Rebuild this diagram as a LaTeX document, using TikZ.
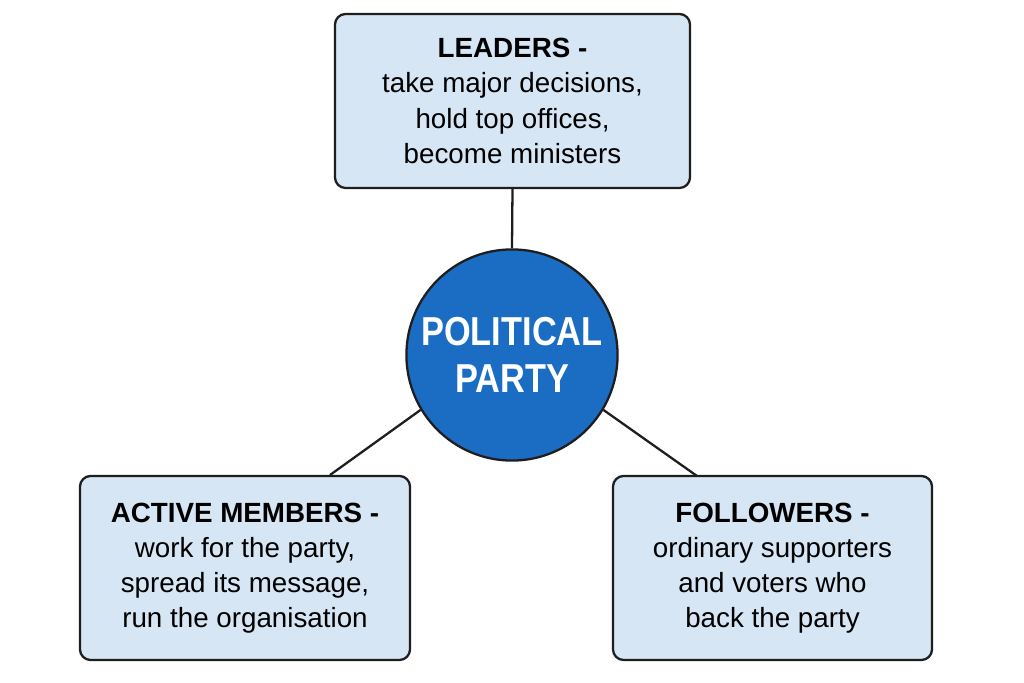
\documentclass[tikz,border=0pt]{standalone}
\usepackage{fontspec}
\setmainfont{Liberation Sans}
\usetikzlibrary{positioning}
\definecolor{boxfill}{HTML}{D6E6F5}
\definecolor{partyblue}{HTML}{1A6DC2}
\definecolor{edge}{HTML}{1E1E1E}
\tikzset{
  role/.style={draw=edge,line width=1.3pt,fill=boxfill,rounded corners=6pt,
    align=center,font=\fontsize{15.8}{20}\selectfont,inner sep=0pt},
  party/.style={circle,draw=edge,line width=1.3pt,fill=partyblue,text=white,
    minimum size=4.2cm,align=center,font=\fontsize{23}{27}\selectfont\bfseries},
  link/.style={draw=edge,line width=1.3pt}
}
\begin{document}
\begin{tikzpicture}
\useasboundingbox (0,0) rectangle (20.48,-13.66);
\node[party] (P) at (10.24,-7.1) {\scalebox{0.85}[1]{POLITICAL}\\\scalebox{0.85}[1]{PARTY}};
\node[role,minimum width=7.1cm,minimum height=3.48cm] (L) at (10.25,-2.02)
  {\textbf{LEADERS -}\\take major decisions,\\hold top offices,\\become ministers};
\node[role,minimum width=6.6cm,minimum height=3.68cm] (A) at (4.9,-11.36)
  {\textbf{ACTIVE MEMBERS -}\\work for the party,\\spread its message,\\run the organisation};
\node[role,minimum width=6.38cm,minimum height=3.68cm] (F) at (15.45,-11.36)
  {\textbf{FOLLOWERS -}\\ordinary supporters\\and voters who\\back the party};
% connectors
\draw[link] (L.south) -- (P.north);
\draw[link] (P.211) -- (6.6,-9.5);
\draw[link] (P.-31) -- (13.94,-9.52);
\end{tikzpicture}
\end{document}
